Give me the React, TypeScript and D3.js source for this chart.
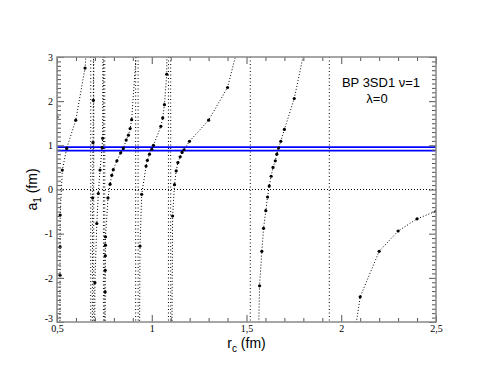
import { useEffect, useRef } from 'react';
import * as d3 from 'd3';

const W = 491;
const H = 379;
const frame = { left: 57, right: 436, top: 57, bottom: 322 };

// a1(rc) branches between the poles; first/last points run off the frame
const rcA = [0.5, 0.506];
const a1A = [1.64, 8];

const rcB = [0.513, 0.516, 0.5163, 0.5168, 0.528, 0.551, 0.599, 0.648, 0.66, 0.675];
const a1B = [-8, -1.94, -1.3, -0.58, 0.44, 0.93, 1.57, 2.75, 3.4, 8];

const rcC = [0.684, 0.688, 0.69, 0.692, 0.695];
const a1C = [-8, -0.19, 1.06, 2.02, 8];

const rcD = [0.696, 0.7, 0.71, 0.718, 0.727, 0.738, 0.741, 0.746];
const a1D = [-8, -2.11, -0.77, -0.09, 0.44, 0.95, 1.16, 8];

const rcE = [0.752, 0.754, 0.7545, 0.755, 0.7555, 0.756, 0.769, 0.78, 0.789, 0.797, 0.816, 0.836, 0.85, 0.865, 0.877, 0.886, 0.894, 0.92, 0.925];
const a1E = [-8, -2.32, -1.83, -1.5, -1.26, -1.07, -0.19, 0.12, 0.32, 0.45, 0.65, 0.83, 0.93, 1.12, 1.23, 1.38, 1.58, 3.2, 10];

const rcF = [0.93, 0.938, 0.947, 0.97, 0.977, 0.988, 1.0, 1.009, 1.048, 1.058, 1.067, 1.079, 1.088];
const a1F = [-8, -1.28, -0.11, 0.53, 0.66, 0.8, 0.91, 1.0, 1.43, 1.62, 1.92, 2.61, 8];

const rcG = [1.1, 1.11, 1.12, 1.129, 1.138, 1.15, 1.16, 1.17, 1.199, 1.3, 1.4, 1.5];
const a1G = [-8, -0.6, 0.11, 0.42, 0.61, 0.74, 0.84, 0.9, 1.09, 1.57, 2.31, 4.0];

const rcH = [1.55, 1.569, 1.581, 1.59, 1.602, 1.611, 1.62, 1.63, 1.64, 1.652, 1.66, 1.669, 1.681, 1.7, 1.752, 1.85];
const a1H = [-6, -2.18, -1.4, -0.88, -0.48, -0.17, 0.08, 0.3, 0.5, 0.65, 0.8, 0.94, 1.09, 1.36, 2.06, 4.06];

const rcI = [2.0, 2.1, 2.2, 2.3, 2.4, 2.5];
const a1I = [-5.3, -2.43, -1.4, -0.94, -0.665, -0.49];

const branches = [[rcA, a1A], [rcB, a1B], [rcC, a1C], [rcD, a1D], [rcE, a1E], [rcF, a1F], [rcG, a1G], [rcH, a1H], [rcI, a1I]];

// pole positions (vertical dotted lines)
const poles = [0.678, 0.694, 0.745, 0.752, 0.915, 0.928, 1.088, 1.1, 1.52, 1.937];

// experimental band for a1
const band = [0.96, 0.88];

const xTicks = [0.5, 1, 1.5, 2, 2.5];
const yTicks = [-3, -2, -1, 0, 1, 2, 3];

export default function App() {
    const ref = useRef<SVGSVGElement>(null);

    useEffect(() => {
        document.body.style.margin = '0';
        const svg = d3.select(ref.current);
        svg.selectAll('*').remove();

        const x = d3.scaleLinear().domain([0.5, 2.5]).range([frame.left, frame.right]);
        const y = d3.scaleLinear().domain([-3, 3]).range([frame.bottom, frame.top]);

        svg.append('defs').append('clipPath').attr('id', 'plot')
            .append('rect')
            .attr('x', frame.left).attr('y', frame.top)
            .attr('width', frame.right - frame.left).attr('height', frame.bottom - frame.top);

        const plot = svg.append('g').attr('clip-path', 'url(#plot)');

        // zero line
        plot.append('line')
            .attr('x1', frame.left).attr('x2', frame.right)
            .attr('y1', y(0)).attr('y2', y(0))
            .attr('stroke', '#000').attr('stroke-dasharray', '1 2');

        // poles
        plot.selectAll('line.pole').data(poles).enter().append('line')
            .attr('class', 'pole')
            .attr('x1', d => x(d)).attr('x2', d => x(d))
            .attr('y1', frame.top).attr('y2', frame.bottom)
            .attr('stroke', '#000').attr('stroke-dasharray', '1 2.5');

        // band
        plot.selectAll('line.band').data(band).enter().append('line')
            .attr('class', 'band')
            .attr('x1', frame.left).attr('x2', frame.right)
            .attr('y1', d => y(d)).attr('y2', d => y(d))
            .attr('stroke', '#0000ff').attr('stroke-width', 1.6);

        branches.forEach(([rc, a1]) => {
            const pts = rc.map((r, i) => [x(r), y(a1[i])] as [number, number]);
            plot.append('path')
                .attr('d', d3.line()(pts))
                .attr('fill', 'none')
                .attr('stroke', '#000')
                .attr('stroke-dasharray', '1 2');
            plot.selectAll(null).data(pts.filter(p => p[1] >= frame.top - 2 && p[1] <= frame.bottom + 2))
                .enter().append('circle')
                .attr('cx', d => d[0]).attr('cy', d => d[1])
                .attr('r', 1.6).attr('fill', '#000');
        });

        const fmt = (d: any) => String(d).replace('.', ',');
        const tickStyle = (g: any) => {
            g.select('.domain').remove();
            g.selectAll('line').attr('stroke', '#555');
            g.selectAll('text').attr('font-family', 'Liberation Serif, serif').attr('font-size', 10).attr('fill', '#000');
        };
        const minorX = d3.range(5, 26).map(i => i / 10).filter(v => !xTicks.includes(v));
        const minorY = d3.range(-30, 31).map(i => i / 10).filter(v => !yTicks.includes(v));

        svg.append('g').attr('transform', `translate(0,${frame.bottom})`)
            .call(d3.axisBottom(x).tickValues(xTicks).tickSize(-7).tickPadding(3).tickFormat(fmt)).call(tickStyle);
        svg.append('g').attr('transform', `translate(0,${frame.bottom})`)
            .call(d3.axisBottom(x).tickValues(minorX).tickSize(-4).tickFormat(() => '')).call(tickStyle);
        svg.append('g').attr('transform', `translate(0,${frame.top})`)
            .call(d3.axisTop(x).tickValues(xTicks).tickSize(-7).tickFormat(() => '')).call(tickStyle);
        svg.append('g').attr('transform', `translate(0,${frame.top})`)
            .call(d3.axisTop(x).tickValues(minorX).tickSize(-4).tickFormat(() => '')).call(tickStyle);

        const yAx = svg.append('g').attr('transform', `translate(${frame.left},0)`)
            .call(d3.axisLeft(y).tickValues(yTicks).tickSize(-7).tickPadding(4).tickFormat(fmt)).call(tickStyle);
        // lowest label sits a little higher, as in the original
        yAx.selectAll('.tick text').filter((d: any) => d === -3).attr('dy', '-0.05em');
        svg.append('g').attr('transform', `translate(${frame.left},0)`)
            .call(d3.axisLeft(y).tickValues(minorY).tickSize(-4).tickFormat(() => '')).call(tickStyle);
        svg.append('g').attr('transform', `translate(${frame.right},0)`)
            .call(d3.axisRight(y).tickValues(yTicks).tickSize(-7).tickFormat(() => '')).call(tickStyle);
        svg.append('g').attr('transform', `translate(${frame.right},0)`)
            .call(d3.axisRight(y).tickValues(minorY).tickSize(-4).tickFormat(() => '')).call(tickStyle);

        svg.append('rect')
            .attr('x', frame.left).attr('y', frame.top)
            .attr('width', frame.right - frame.left).attr('height', frame.bottom - frame.top)
            .attr('fill', 'none').attr('stroke', '#888').attr('stroke-width', 1.5);

        // axis titles
        const xt = svg.append('text')
            .attr('x', (frame.left + frame.right) / 2).attr('y', 348)
            .attr('text-anchor', 'middle')
            .attr('font-family', 'Liberation Sans, Arial, sans-serif').attr('font-size', 14);
        xt.append('tspan').text('r');
        xt.append('tspan').attr('font-size', 10).attr('dy', 4).text('c');
        xt.append('tspan').attr('dy', -4).text(' (fm)');

        const yt = svg.append('text')
            .attr('transform', `translate(37,${(frame.top + frame.bottom) / 2}) rotate(-90)`)
            .attr('text-anchor', 'middle')
            .attr('font-family', 'Liberation Sans, Arial, sans-serif').attr('font-size', 14);
        yt.append('tspan').text('a');
        yt.append('tspan').attr('font-size', 10).attr('dy', 4).text('1');
        yt.append('tspan').attr('dy', -4).text(' (fm)');

        svg.append('text')
            .attr('x', 381).attr('y', 87)
            .attr('text-anchor', 'middle')
            .attr('font-family', 'Liberation Sans, Arial, sans-serif').attr('font-size', 13)
            .text('BP 3SD1 \u03bd=1');
        svg.append('text')
            .attr('x', 377).attr('y', 103)
            .attr('text-anchor', 'middle')
            .attr('font-family', 'Liberation Sans, Arial, sans-serif').attr('font-size', 13)
            .text('\u03bb=0');
    }, []);

    return (
        <svg ref={ref} width={W} height={H} style={{ display: 'block', background: '#fff' }} />
    );
}
